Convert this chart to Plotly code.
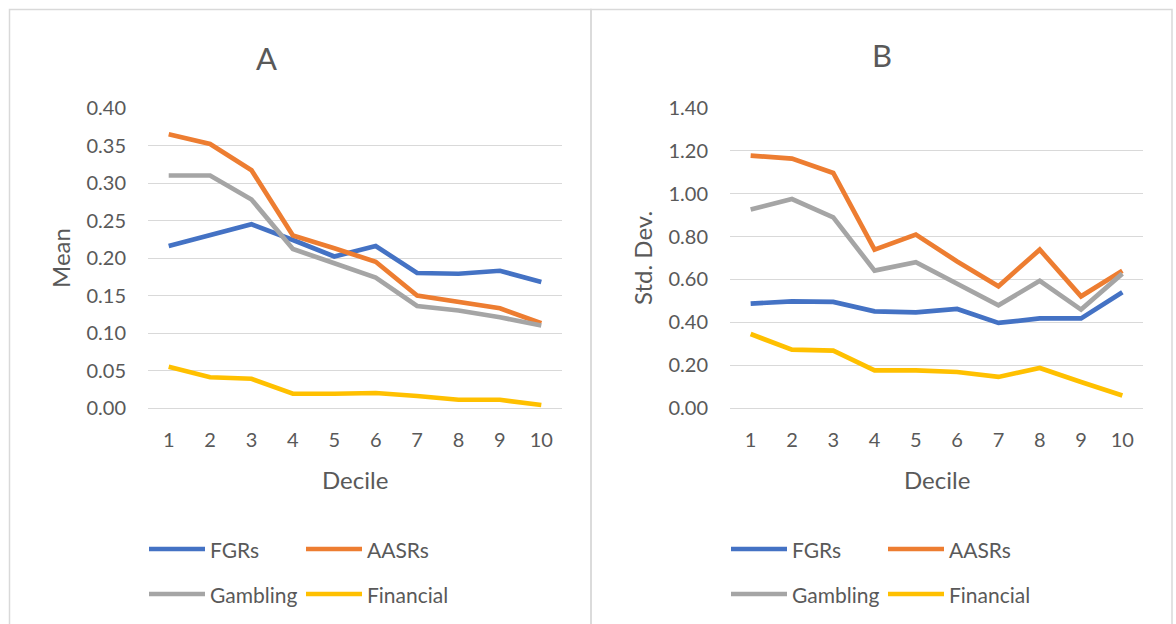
import plotly.graph_objects as go

deciles = [1, 2, 3, 4, 5, 6, 7, 8, 9, 10]
series_names = ["FGRs", "AASRs", "Gambling", "Financial"]
colors = ["#4472C4", "#ED7D31", "#A5A5A5", "#FFC000"]

mean_fgrs = [0.216, 0.231, 0.245, 0.224, 0.202, 0.216, 0.180, 0.179, 0.183, 0.168]
mean_aasrs = [0.365, 0.352, 0.317, 0.230, 0.213, 0.195, 0.150, 0.141, 0.133, 0.113]
mean_gambling = [0.310, 0.310, 0.278, 0.212, 0.193, 0.174, 0.136, 0.130, 0.121, 0.110]
mean_financial = [0.055, 0.041, 0.039, 0.019, 0.019, 0.020, 0.016, 0.011, 0.011, 0.004]

sd_fgrs = [0.487, 0.498, 0.495, 0.451, 0.446, 0.462, 0.397, 0.418, 0.418, 0.540]
sd_aasrs = [1.178, 1.164, 1.097, 0.739, 0.809, 0.684, 0.568, 0.739, 0.521, 0.641]
sd_gambling = [0.926, 0.975, 0.890, 0.641, 0.680, 0.579, 0.479, 0.594, 0.459, 0.627]
sd_financial = [0.345, 0.272, 0.268, 0.176, 0.176, 0.168, 0.145, 0.187, 0.121, 0.058]

mean_ticks = [0.00, 0.05, 0.10, 0.15, 0.20, 0.25, 0.30, 0.35, 0.40]
sd_ticks = [0.00, 0.20, 0.40, 0.60, 0.80, 1.00, 1.20, 1.40]

W, H = 1176, 624
FONT = "Lato"
TXT = "#595959"
GRID = "#D9D9D9"

def px(x):
    return x / W

def py(y):
    return 1 - y / H

fig = go.Figure()

mean_series = [mean_fgrs, mean_aasrs, mean_gambling, mean_financial]
sd_series = [sd_fgrs, sd_aasrs, sd_gambling, sd_financial]

for name, col, vals in zip(series_names, colors, mean_series):
    fig.add_trace(go.Scatter(x=deciles, y=vals, mode="lines", name=name,
                             line=dict(color=col, width=4.7),
                             xaxis="x", yaxis="y", showlegend=False))
for name, col, vals in zip(series_names, colors, sd_series):
    fig.add_trace(go.Scatter(x=deciles, y=vals, mode="lines", name=name,
                             line=dict(color=col, width=4.7),
                             xaxis="x2", yaxis="y2", showlegend=False))

ydom = [py(408), py(108)]
common_x = dict(tickmode="array", tickvals=deciles, ticktext=[str(d) for d in deciles],
                range=[0.5, 10.5], showgrid=False, zeroline=False, showline=False,
                ticks="", ticklabelstandoff=18, automargin=False,
                tickfont=dict(family=FONT, size=20, color=TXT), fixedrange=True)
common_y = dict(showgrid=True, gridcolor=GRID, gridwidth=1.3, zeroline=True,
                zerolinecolor=GRID, zerolinewidth=1.3, showline=False, ticks="",
                ticklabelstandoff=21, tickformat=".2f", automargin=False,
                tickfont=dict(family=FONT, size=20, color=TXT), fixedrange=True)

fig.update_layout(
    width=W, height=H,
    margin=dict(l=0, r=0, t=0, b=0, autoexpand=False),
    paper_bgcolor="white", plot_bgcolor="white",
    xaxis=dict(domain=[px(148), px(562)], anchor="y", **common_x),
    yaxis=dict(domain=ydom, anchor="x", range=[0, 0.4], tickvals=mean_ticks, **common_y),
    xaxis2=dict(domain=[px(730), px(1143)], anchor="y2", **common_x),
    yaxis2=dict(domain=ydom, anchor="x2", range=[0, 1.4], tickvals=sd_ticks, **common_y),
)

shapes = []
annotations = []

# panel borders
for x0, x1 in [(9.5, 591), (591, 1172)]:
    shapes.append(dict(type="rect", xref="paper", yref="paper",
                       x0=px(x0), x1=px(x1), y0=py(640), y1=py(9.5),
                       line=dict(color=GRID, width=1.5), fillcolor="rgba(0,0,0,0)", layer="below"))

def text(x, y, s, size, angle=0, xanchor="center"):
    annotations.append(dict(x=px(x), y=py(y), xref="paper", yref="paper", text=s,
                            showarrow=False, textangle=angle, xanchor=xanchor, yanchor="middle",
                            font=dict(family=FONT, size=size, color=TXT)))

for off, title, ytitle in [(0, "A", "Mean"), (582, "B", "Std. Dev.")]:
    text(266 if off == 0 else 882, 58 if off == 0 else 55, title, 31)
    text(60 + off, 258, ytitle, 24, angle=-90)
    text(355 + off, 479, "Decile", 24)
    # legend
    for i, (name, col) in enumerate(zip(series_names, colors)):
        row, colm = divmod(i, 2)
        lx0 = 149 + off + colm * 157
        ly = 549 + row * 45
        shapes.append(dict(type="line", xref="paper", yref="paper",
                           x0=px(lx0), x1=px(lx0 + 56), y0=py(ly), y1=py(ly),
                           line=dict(color=col, width=4.7)))
        text(lx0 + 59, ly, name, 21, xanchor="left")

fig.update_layout(shapes=shapes, annotations=annotations)

fig.write_html("out.html", config={"displayModeBar": False},
               post_script="document.body.style.margin='0px';")
